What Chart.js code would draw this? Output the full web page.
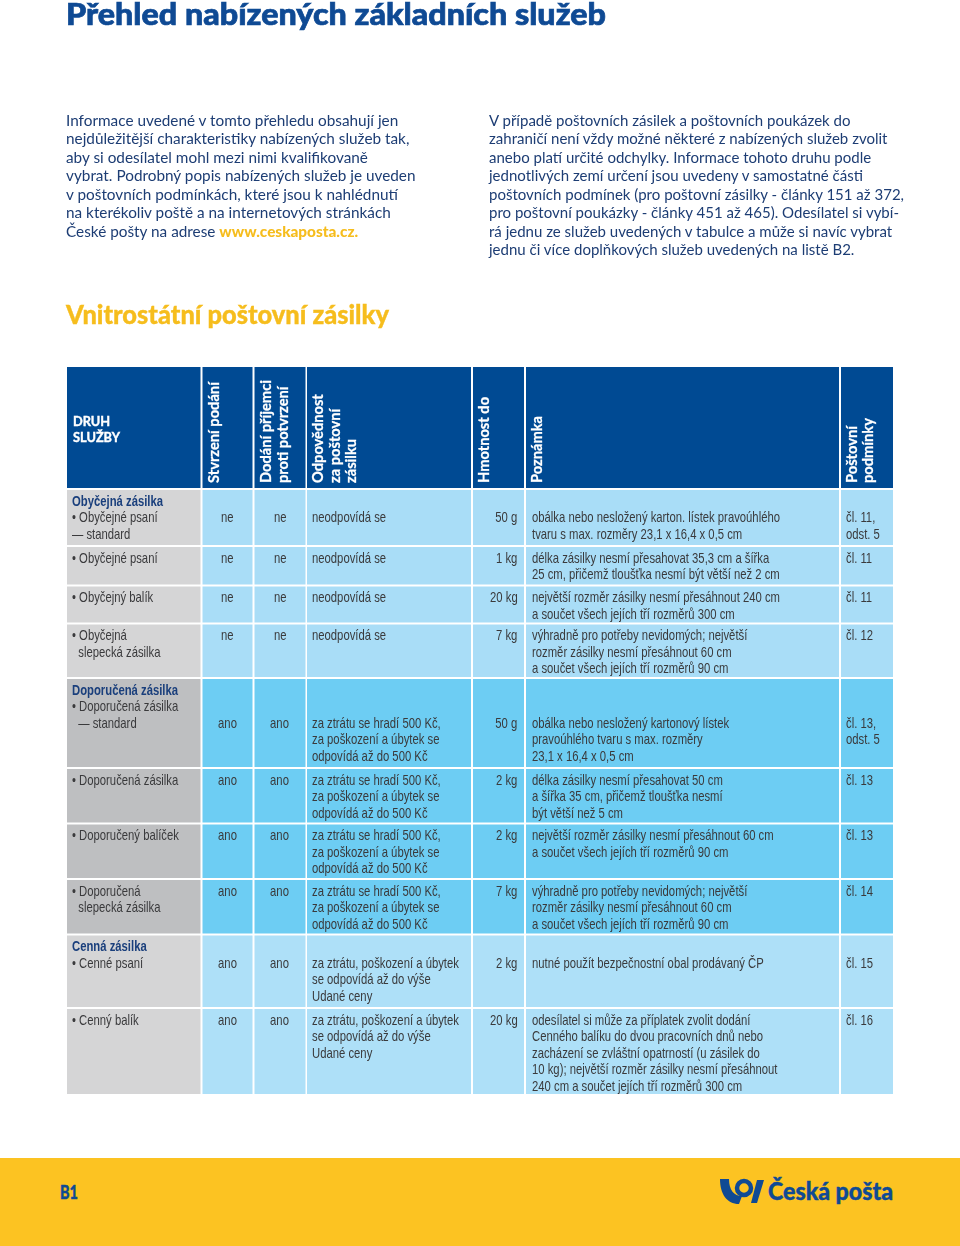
<!DOCTYPE html>
<html>
<head>
<meta charset="utf-8">
<script src="https://cdn.jsdelivr.net/npm/chart.js@4"></script>
<style>
html,body{margin:0;padding:0;background:#fff;}
body{width:960px;height:1246px;position:relative;overflow:hidden;font-family:Lato,"Noto Sans",sans-serif;}
#table{position:absolute;left:0;top:0;}
.t{position:absolute;white-space:pre;}
.t > span{display:inline-block;white-space:pre;}
.vlab{position:absolute;writing-mode:vertical-rl;transform:rotate(180deg);white-space:pre;color:#fff;font-weight:700;font-family:Lato,sans-serif;-webkit-text-stroke:0.25px #fff;}
.heavy{-webkit-text-stroke:0.7px currentColor;}
.mid{-webkit-text-stroke:0.35px currentColor;}
.semi{-webkit-text-stroke:0.4px currentColor;}
#footer{position:absolute;left:0;top:1158px;width:960px;height:88px;background:#fcc322;}
</style>
</head>
<body>
<canvas id="table" width="960" height="1246"></canvas>
<div id="footer"></div>
<script>
// ---------------- texts & data ----------------
const titleText = 'Přehled nabízených základních služeb';
const introLeft = [
  'Informace uvedené v tomto přehledu obsahují jen',
  'nejdůležitější charakteristiky nabízených služeb tak,',
  'aby si odesílatel mohl mezi nimi kvalifikovaně',
  'vybrat. Podrobný popis nabízených služeb je uveden',
  'v poštovních podmínkách, které jsou k nahlédnutí',
  'na kterékoliv poště a na internetových stránkách',
  'České pošty na adrese '
];
const introLink = 'www.ceskaposta.cz.';
const introRight = [
  'V případě poštovních zásilek a poštovních poukázek do',
  'zahraničí není vždy možné některé z nabízených služeb zvolit',
  'anebo platí určité odchylky. Informace tohoto druhu podle',
  'jednotlivých zemí určení jsou uvedeny v samostatné části',
  'poštovních podmínek (pro poštovní zásilky - články 151 až 372,',
  'pro poštovní poukázky - články 451 až 465). Odesílatel si vybí-',
  'rá jednu ze služeb uvedených v tabulce a může si navíc vybrat',
  'jednu či více doplňkových služeb uvedených na listě B2.'
];
const sectionTitle = 'Vnitrostátní poštovní zásilky';
const headerLabels = ['DRUH\nSLUŽBY', 'Stvrzení podání', 'Dodání příjemci\nproti potvrzení',
  'Odpovědnost\nza poštovní\nzásilku', 'Hmotnost do', 'Poznámka', 'Poštovní\npodmínky'];
const groupNames = ['Obyčejná zásilka', '', '', '', 'Doporučená zásilka', '', '', '', 'Cenná zásilka', ''];
const services = ['• Obyčejné psaní\n— standard', '• Obyčejné psaní', '• Obyčejný balík',
  '• Obyčejná\n  slepecká zásilka', '• Doporučená zásilka\n  — standard', '• Doporučená zásilka',
  '• Doporučený balíček', '• Doporučená\n  slepecká zásilka', '• Cenné psaní', '• Cenný balík'];
const receipt = ['ne', 'ne', 'ne', 'ne', 'ano', 'ano', 'ano', 'ano', 'ano', 'ano'];
const delivery = ['ne', 'ne', 'ne', 'ne', 'ano', 'ano', 'ano', 'ano', 'ano', 'ano'];
const liability = ['neodpovídá se', 'neodpovídá se', 'neodpovídá se', 'neodpovídá se',
  'za ztrátu se hradí 500 Kč,\nza poškození a úbytek se\nodpovídá až do 500 Kč',
  'za ztrátu se hradí 500 Kč,\nza poškození a úbytek se\nodpovídá až do 500 Kč',
  'za ztrátu se hradí 500 Kč,\nza poškození a úbytek se\nodpovídá až do 500 Kč',
  'za ztrátu se hradí 500 Kč,\nza poškození a úbytek se\nodpovídá až do 500 Kč',
  'za ztrátu, poškození a úbytek\nse odpovídá až do výše\nUdané ceny',
  'za ztrátu, poškození a úbytek\nse odpovídá až do výše\nUdané ceny'];
const weightLimit = ['50 g', '1 kg', '20 kg', '7 kg', '50 g', '2 kg', '2 kg', '7 kg', '2 kg', '20 kg'];
const notes = [
  'obálka nebo nesložený karton. lístek pravoúhlého\ntvaru s max. rozměry 23,1 x 16,4 x 0,5 cm',
  'délka zásilky nesmí přesahovat 35,3 cm a šířka\n25 cm, přičemž tloušťka nesmí být větší než 2 cm',
  'největší rozměr zásilky nesmí přesáhnout 240 cm\na součet všech jejích tří rozměrů 300 cm',
  'výhradně pro potřeby nevidomých; největší\nrozměr zásilky nesmí přesáhnout 60 cm\na součet všech jejích tří rozměrů 90 cm',
  'obálka nebo nesložený kartonový lístek\npravoúhlého tvaru s max. rozměry\n23,1 x 16,4 x 0,5 cm',
  'délka zásilky nesmí přesahovat 50 cm\na šířka 35 cm, přičemž tloušťka nesmí\nbýt větší než 5 cm',
  'největší rozměr zásilky nesmí přesáhnout 60 cm\na součet všech jejích tří rozměrů 90 cm',
  'výhradně pro potřeby nevidomých; největší\nrozměr zásilky nesmí přesáhnout 60 cm\na součet všech jejích tří rozměrů 90 cm',
  'nutné použít bezpečnostní obal prodávaný ČP',
  'odesílatel si může za příplatek zvolit dodání\nCenného balíku do dvou pracovních dnů nebo\nzacházení se zvláštní opatrností (u zásilek do\n10 kg); největší rozměr zásilky nesmí přesáhnout\n240 cm a součet jejích tří rozměrů 300 cm'];
const terms = ['čl. 11,\nodst. 5', 'čl. 11', 'čl. 11', 'čl. 12', 'čl. 13,\nodst. 5', 'čl. 13', 'čl. 13', 'čl. 14', 'čl. 15', 'čl. 16'];
const groupOfRow = [0, 0, 0, 0, 1, 1, 1, 1, 2, 2];
const pageLabel = 'B1';
const brandName = 'Česká pošta';

// ---------------- layout & style ----------------
const COLS = [[67, 200.5], [202.5, 252.5], [254.5, 305.5], [307, 471], [473, 524], [526, 839], [841, 893]];
const HEAD = [367, 488];
const ROWS = [[490, 545], [547, 584.5], [586.5, 622.5], [624.5, 677], [679, 767], [769, 822.5],
  [824.5, 878], [880, 933.5], [935.5, 1007], [1009, 1094]];
const dataLineOffset = [1, 0, 0, 0, 2, 0, 0, 0, 1, 0];
const HEAD_BLUE = '#004a93';
const CELL_BLUE = ['#a9ddf7', '#6dcdf3', '#aee0f8'];
const CELL_GRAY = ['#d5d5d6', '#bebfc1', '#d5d5d6'];
const NAVY = '#0f4a94';
const TEXT_NAVY = '#1d3d74';
const BODY = '#3a3a3c';
const YELLOW = '#f6bd1d';
const LH = 16.5;
const BODY_FONT = '"Liberation Sans Narrow","Liberation Sans",Arial,sans-serif';

// ---------------- chart (table cells) ----------------
const bands = [HEAD].concat(ROWS);
const datasets = bands.map((b, bi) => ({
  label: bi === 0 ? 'header' : services[bi - 1],
  data: COLS.map(c => ({x: [c[0], c[1]], y: (b[0] + b[1]) / 2})),
  backgroundColor: COLS.map((c, ci) => bi === 0 ? HEAD_BLUE : (ci === 0 ? CELL_GRAY[groupOfRow[bi - 1]] : CELL_BLUE[groupOfRow[bi - 1]])),
  barThickness: b[1] - b[0],
  stack: 'table',
  borderWidth: 0,
  borderSkipped: false,
  inflateAmount: 0
}));
const chart = new Chart(document.getElementById('table'), {
  type: 'bar',
  data: {datasets},
  options: {
    indexAxis: 'y',
    responsive: false,
    animation: false,
    events: [],
    layout: {padding: 0},
    plugins: {legend: {display: false}, tooltip: {enabled: false}, title: {display: false}},
    scales: {
      x: {type: 'linear', min: 0, max: 960, display: false, stacked: false, offset: false},
      y: {type: 'linear', min: 0, max: 1246, reverse: true, display: false, offset: false}
    }
  }
});
const sx = v => chart.scales.x.getPixelForValue(v);
const sy = v => chart.scales.y.getPixelForValue(v);

// ---------------- text helpers ----------------
const mctx = document.createElement('canvas').getContext('2d');
function measure(txt, font) { mctx.font = font; return mctx.measureText(txt).width; }
function addText(html, o) {
  const d = document.createElement('div');
  d.className = 't' + (o.cls ? ' ' + o.cls : '');
  d.style.left = o.left + 'px';
  d.style.top = o.top + 'px';
  d.style.font = o.font;
  d.style.lineHeight = (o.lh || LH) + 'px';
  d.style.color = o.color;
  if (o.width) { d.style.width = o.width + 'px'; d.style.textAlign = o.align || 'left'; }
  const s = document.createElement('span');
  s.innerHTML = html;
  s.style.transformOrigin = (o.align === 'right' ? 'right' : o.align === 'center' ? 'center' : 'left') + ' top';
  s.style.transform = 'scaleX(' + (o.k || 1) + ')';
  d.appendChild(s);
  document.body.appendChild(d);
  return d;
}
const esc = s => s.replace(/&/g, '&amp;').replace(/</g, '&lt;');

// title
const titleFont = '900 30px Lato';
addText(esc(titleText), {left: 66, top: -2, font: titleFont, lh: 30, color: NAVY, cls: 'heavy',
  k: 540 / measure(titleText, titleFont)});

// intro
const introFont = '400 15px Lato';
addText(introLeft.map(esc).join('\n') + '<b style="color:' + YELLOW + ';font-weight:900">' + introLink + '</b>',
  {left: 66, top: 110.75, font: introFont, lh: 18.5, color: TEXT_NAVY, k: 333 / measure(introLeft[0], introFont)});
addText(introRight.map(esc).join('\n'),
  {left: 489, top: 110.75, font: introFont, lh: 18.5, color: TEXT_NAVY, k: 362 / measure(introRight[0], introFont)});

// section title
const secFont = '900 26px Lato';
addText(esc(sectionTitle), {left: 66, top: 301, font: secFont, lh: 26, color: YELLOW, cls: 'mid',
  k: 323 / measure(sectionTitle, secFont)});

// header labels
const hFont = '700 14px Lato';
addText(esc(headerLabels[0]), {left: sx(COLS[0][0]) + 5.5, top: 412.5, font: hFont, color: '#fff', cls: 'semi',
  k: 47 / measure('SLUŽBY', hFont)});
const vSize = 14 * 101 / measure('Stvrzení podání', hFont);
for (let c = 1; c < COLS.length; c++) {
  const lines = headerLabels[c].split('\n');
  const d = document.createElement('div');
  d.className = 'vlab';
  d.style.left = (sx(COLS[c][0]) + 3) + 'px';
  d.style.top = sy(HEAD[0]) + 'px';
  d.style.width = (lines.length * LH) + 'px';
  d.style.height = (483 - HEAD[0]) + 'px';
  d.style.fontSize = vSize + 'px';
  d.style.lineHeight = LH + 'px';
  d.textContent = headerLabels[c];
  document.body.appendChild(d);
}

// table body
const bodyFont = '400 15px ' + BODY_FONT;
const kb = 248 / measure('obálka nebo nesložený karton. lístek pravoúhlého', bodyFont);
ROWS.forEach((r, i) => {
  const top = sy(r[0]) + 2.5;
  let first = '';
  if (groupNames[i]) first = '<b style="color:#1a3f7c;font-weight:700">' + esc(groupNames[i]) + '</b>\n';
  addText(first + esc(services[i]), {left: sx(COLS[0][0]) + 5, top, font: bodyFont, color: BODY, k: kb});
  const dt = top + dataLineOffset[i] * LH;
  addText(esc(receipt[i]), {left: sx(COLS[1][0]), width: COLS[1][1] - COLS[1][0], align: 'center', top: dt, font: bodyFont, color: BODY, k: kb});
  addText(esc(delivery[i]), {left: sx(COLS[2][0]), width: COLS[2][1] - COLS[2][0], align: 'center', top: dt, font: bodyFont, color: BODY, k: kb});
  addText(esc(liability[i]), {left: sx(COLS[3][0]) + 5, top: dt, font: bodyFont, color: BODY, k: kb});
  addText(esc(weightLimit[i]), {left: sx(COLS[4][0]), width: COLS[4][1] - COLS[4][0] - 6.5, align: 'right', top: dt, font: bodyFont, color: BODY, k: kb});
  addText(esc(notes[i]), {left: sx(COLS[5][0]) + 6, top: dt, font: bodyFont, color: BODY, k: kb});
  addText(esc(terms[i]), {left: sx(COLS[6][0]) + 5, top: dt, font: bodyFont, color: BODY, k: kb});
});

// footer
const b1Font = '900 19px Lato';
addText(pageLabel, {left: 60, top: 1182, font: b1Font, lh: 19, color: NAVY, cls: 'semi', k: 18 / measure(pageLabel, b1Font)});
const brandFont = '900 24px Lato';
addText(esc(brandName), {left: 768, top: 1179, font: brandFont, lh: 24, color: NAVY, cls: 'semi', k: 125 / measure(brandName, brandFont)});
const svgNS = 'http://www.w3.org/2000/svg';
const svg = document.createElementNS(svgNS, 'svg');
svg.setAttribute('width', '46'); svg.setAttribute('height', '28');
svg.style.position = 'absolute'; svg.style.left = '719px'; svg.style.top = '1177px';
svg.innerHTML =
  '<path d="M1,2 L10,2 C10,13 15,19 23,19 L20,27 C8,27 1,17 1,2 Z" fill="' + NAVY + '"/>' +
  '<circle cx="25" cy="11" r="7" fill="none" stroke="' + NAVY + '" stroke-width="4.5"/>' +
  '<path d="M38,3 L45,3 L38,26 L32,26 Z" fill="' + NAVY + '"/>';
document.body.appendChild(svg);
</script>
</body>
</html>
